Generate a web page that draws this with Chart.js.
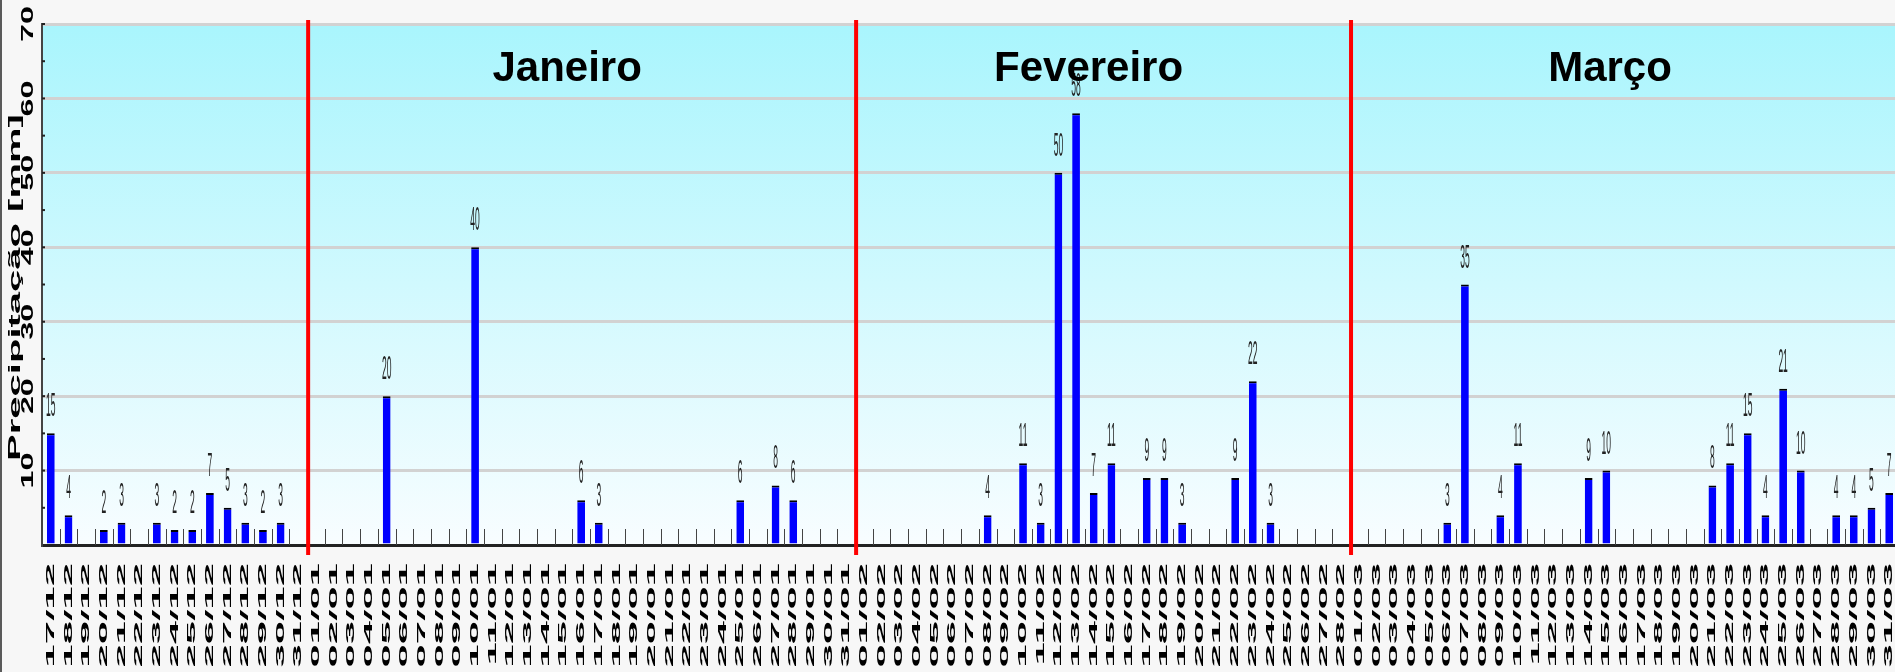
<!DOCTYPE html>
<html lang="pt">
<head>
<meta charset="utf-8">
<title>Precipitação diária</title>
<script src="https://cdn.jsdelivr.net/npm/chart.js@4.4.1/dist/chart.umd.min.js"></script>
<style>
  html, body { margin: 0; padding: 0; background: #f7f7f7; overflow: hidden; }
  #wrap { width: 1895px; height: 672px; overflow: hidden; }
  canvas { display: block; }
</style>
</head>
<body>
<div id="wrap"><canvas id="chuvaChart" width="1905" height="672"></canvas></div>
<script>
// Precipitação diária (mm) - 17/12 a 31/03

// valores, um por dia
const dezembro  = [15, 4, 0, 2, 3, 0, 3, 2, 2, 7, 5, 3, 2, 3, 0];              // 17/12 .. 31/12
const janeiro   = [0, 0, 0, 0, 20, 0, 0, 0, 0, 40, 0, 0, 0, 0, 0, 6, 3, 0, 0, 0,
                   0, 0, 0, 0, 6, 0, 8, 6, 0, 0, 0];                            // 01/01 .. 31/01
const fevereiro = [0, 0, 0, 0, 0, 0, 0, 4, 0, 11, 3, 50, 58, 7, 11, 0, 9, 9, 3, 0,
                   0, 9, 22, 3, 0, 0, 0, 0];                                    // 01/02 .. 28/02
const marco     = [0, 0, 0, 0, 0, 3, 35, 0, 4, 11, 0, 0, 0, 9, 10, 0, 0, 0, 0, 0,
                   8, 11, 15, 4, 21, 10, 0, 4, 4, 5, 7];                        // 01/03 .. 31/03

const meses = ['Janeiro', 'Fevereiro', 'Março'];
const inicioMeses = ['01/01', '01/02', '01/03'];
const yTicks = [10, 20, 30, 40, 50, 60, 70];
const yTitulo = 'Precipitação [mm]';

// rótulos dd/mm
function diasDoMes(primeiro, ultimo, mes) {
    const out = [];
    for (let d = primeiro; d <= ultimo; d++) {
        out.push(String(d).padStart(2, '0') + '/' + mes);
    }
    return out;
}
const rotulos = [].concat(
    diasDoMes(17, 31, '12'),
    diasDoMes(1, 31, '01'),
    diasDoMes(1, 28, '02'),
    diasDoMes(1, 31, '03')
);
const precipitacao = [].concat(dezembro, janeiro, fevereiro, marco);

const FONTE = '"Liberation Sans", Arial, Helvetica, sans-serif';

// fundo cinza + área do gráfico em degradê
const fundoPlugin = {
    id: 'fundo',
    beforeDraw(chart) {
        const { ctx, chartArea: a } = chart;
        ctx.save();
        ctx.fillStyle = '#f7f7f7';
        ctx.fillRect(0, 0, chart.width, chart.height);
        ctx.fillStyle = '#5a5a5a';
        ctx.fillRect(0, 0, 2, chart.height);
        const g = ctx.createLinearGradient(0, a.top, 0, a.bottom);
        g.addColorStop(0, '#a9f5fd');
        g.addColorStop(1, '#f8fdff');
        ctx.fillStyle = g;
        ctx.fillRect(a.left, a.top, a.right - a.left, a.bottom - a.top);
        ctx.restore();
    }
};

// textos esticados (rótulos, valores, meses)
const textosPlugin = {
    id: 'textos',
    afterDatasetsDraw(chart) {
        const { ctx, chartArea: a } = chart;
        const xs = chart.scales.x;
        const ys = chart.scales.y;

        // marcas curtas entre os dias
        ctx.save();
        ctx.strokeStyle = '#444';
        ctx.lineWidth = 1;
        for (let i = 0; i <= rotulos.length; i++) {
            const x = Math.round(xs.getPixelForValue(i - 0.5)) + 0.5;
            ctx.beginPath();
            ctx.moveTo(x, a.bottom - 16);
            ctx.lineTo(x, a.bottom);
            ctx.stroke();
        }
        // marquinhas do eixo y a cada 5
        ctx.strokeStyle = '#222';
        ctx.lineWidth = 2;
        for (let v = 5; v <= 70; v += 5) {
            const y = ys.getPixelForValue(v);
            ctx.beginPath();
            ctx.moveTo(a.left, y);
            ctx.lineTo(a.left + 3, y);
            ctx.stroke();
        }
        ctx.restore();

        // valores sobre as barras
        const meta = chart.getDatasetMeta(0);
        meta.data.forEach((bar, i) => {
            const v = precipitacao[i];
            if (!v) return;
            ctx.save();
            ctx.translate(bar.x, bar.y - 17);
            ctx.scale(0.25, 1);
            ctx.font = '34px ' + FONTE;
            ctx.fillStyle = '#222';
            ctx.textAlign = 'center';
            ctx.textBaseline = 'alphabetic';
            ctx.fillText(String(v), 0, 0);
            ctx.restore();
        });

        // rótulos do eixo x (datas)
        rotulos.forEach((lab, i) => {
            ctx.save();
            ctx.translate(xs.getPixelForValue(i), xs.top + 18);
            ctx.rotate(-Math.PI / 2);
            ctx.scale(3.8, 1);
            ctx.font = 'bold 11px ' + FONTE;
            ctx.fillStyle = '#000';
            ctx.textAlign = 'right';
            ctx.textBaseline = 'middle';
            ctx.fillText(lab, 0, 0);
            ctx.restore();
        });

        // rótulos do eixo y
        yTicks.forEach(v => {
            ctx.save();
            ctx.translate(28, ys.getPixelForValue(v));
            ctx.rotate(-Math.PI / 2);
            ctx.scale(1.9, 1);
            ctx.font = 'bold 17px ' + FONTE;
            ctx.fillStyle = '#000';
            ctx.textAlign = 'center';
            ctx.textBaseline = 'middle';
            ctx.fillText(String(v), 0, 0);
            ctx.restore();
        });

        // título do eixo y
        ctx.save();
        ctx.translate(16, (a.top + a.bottom) / 2 + 3);
        ctx.rotate(-Math.PI / 2);
        ctx.scale(2.5, 1);
        ctx.font = 'bold 16px ' + FONTE;
        ctx.fillStyle = '#000';
        ctx.textAlign = 'center';
        ctx.textBaseline = 'middle';
        ctx.fillText(yTitulo, 0, 0);
        ctx.restore();

        // nomes dos meses
        const limites = inicioMeses.map(r => rotulos.indexOf(r)).concat([rotulos.length]);
        ctx.save();
        ctx.font = 'bold 42px ' + FONTE;
        ctx.fillStyle = '#000';
        ctx.textAlign = 'center';
        ctx.textBaseline = 'alphabetic';
        meses.forEach((m, k) => {
            const x0 = xs.getPixelForValue(limites[k] - 0.5);
            const x1 = xs.getPixelForValue(limites[k + 1] - 0.5);
            ctx.fillText(m, (x0 + x1) / 2 - 14, a.top + 57);
        });
        ctx.restore();
    },
    afterDraw(chart) {
        // linhas vermelhas na virada do mês
        const { ctx } = chart;
        const xs = chart.scales.x;
        ctx.save();
        ctx.strokeStyle = '#ff0000';
        ctx.lineWidth = 4;
        inicioMeses.forEach(r => {
            const x = xs.getPixelForValue(rotulos.indexOf(r) - 0.5) + 1;
            ctx.beginPath();
            ctx.moveTo(x, 20);
            ctx.lineTo(x, 555);
            ctx.stroke();
        });
        ctx.restore();
    }
};

const ctx = document.getElementById('chuvaChart');
const chuvaChart = new Chart(ctx, {
    type: 'bar',
    data: {
        labels: rotulos,
        datasets: [{
            label: 'Precipitação',
            data: precipitacao,
            backgroundColor: '#0000ff',
            borderColor: '#000000',
            borderWidth: { top: 2, left: 0, right: 0, bottom: 0 },
            borderSkipped: 'bottom',
            barPercentage: 0.44,
            categoryPercentage: 1.0
        }]
    },
    options: {
        responsive: false,
        animation: false,
        devicePixelRatio: 1,
        layout: { padding: { top: 24, right: 7, left: 0, bottom: 0 } },
        plugins: {
            legend: { display: false },
            title: { display: false },
            tooltip: { enabled: false }
        },
        scales: {
            x: {
                offset: true,
                grid: { display: false },
                border: { display: true, color: '#222', width: 3 },
                ticks: { display: false, autoSkip: false },
                afterFit(s) { s.height = 127; }
            },
            y: {
                min: 0,
                max: 70,
                ticks: { display: false, stepSize: 10 },
                grid: { color: '#d2d2d2', lineWidth: 3, drawTicks: false },
                border: { display: true, color: '#444', width: 2 },
                afterFit(s) { s.width = 42; }
            }
        }
    },
    plugins: [fundoPlugin, textosPlugin]
});
</script>
</body>
</html>
